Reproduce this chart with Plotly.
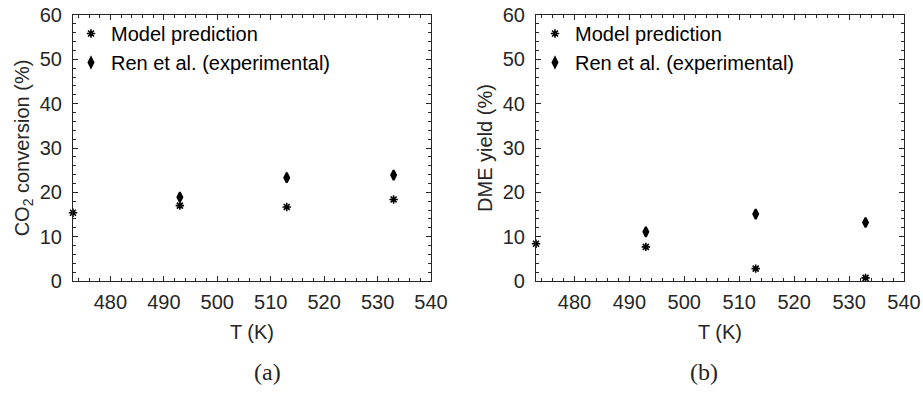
import plotly.graph_objects as go

T_model = [473, 493, 513, 533]
T_exp = [493, 513, 533]
co2_model = [15.4, 17.0, 16.7, 18.4]
co2_exp = [18.9, 23.3, 23.9]
dme_model = [8.4, 7.7, 2.8, 0.7]
dme_exp = [11.1, 15.1, 13.2]

xticks = [480, 490, 500, 510, 520, 530, 540]
yticks = [0, 10, 20, 30, 40, 50, 60]

FONT = "Liberation Sans, Arial, sans-serif"
TXT = "#262626"
fig = go.Figure()

ast = dict(symbol="asterisk-open", size=7, color="black", line=dict(color="black", width=1.6))
dia = dict(symbol="diamond-tall", size=7, color="black", line=dict(color="black", width=2))

fig.add_trace(go.Scatter(x=T_model, y=co2_model, mode="markers", marker=ast,
                         name="Model prediction", xaxis="x", yaxis="y", legend="legend", cliponaxis=False))
fig.add_trace(go.Scatter(x=T_exp, y=co2_exp, mode="markers", marker=dia,
                         name="Ren et al. (experimental)", xaxis="x", yaxis="y", legend="legend", cliponaxis=False))
fig.add_trace(go.Scatter(x=T_model, y=dme_model, mode="markers", marker=ast,
                         name="Model prediction", xaxis="x2", yaxis="y2", legend="legend2", cliponaxis=False))
fig.add_trace(go.Scatter(x=T_exp, y=dme_exp, mode="markers", marker=dia,
                         name="Ren et al. (experimental)", xaxis="x2", yaxis="y2", legend="legend2", cliponaxis=False))

def xax(domain, anchor):
    return dict(domain=domain, anchor=anchor, range=[473, 540], tickvals=xticks,
                automargin=False,
                ticks="inside", ticklen=5, tickwidth=1, tickcolor=TXT,
                minor=dict(dtick=2, ticks="inside", ticklen=3, tickcolor=TXT, showgrid=False),
                showline=True, linecolor=TXT, linewidth=1.2, mirror="allticks",
                showgrid=False, zeroline=False, ticklabelstandoff=3,
                tickfont=dict(family=FONT, size=20, color=TXT),
                title=dict(text="T (K)", font=dict(family=FONT, size=20, color=TXT), standoff=12))

def yax(domain, anchor, title):
    return dict(domain=domain, anchor=anchor, range=[0, 60], tickvals=yticks,
                automargin=False,
                ticks="inside", ticklen=5, tickwidth=1, tickcolor=TXT,
                minor=dict(dtick=2, ticks="inside", ticklen=3, tickcolor=TXT, showgrid=False),
                showline=True, linecolor=TXT, linewidth=1.2, mirror="allticks",
                showgrid=False, zeroline=False, ticklabelstandoff=6,
                tickfont=dict(family=FONT, size=20, color=TXT),
                title=dict(text=title, font=dict(family=FONT, size=20, color=TXT), standoff=4))

yd = [(393 - 281) / 393, (393 - 15) / 393]
fig.update_layout(
    template="none",
    width=923, height=393,
    margin=dict(l=0, r=0, t=0, b=0, autoexpand=False),
    paper_bgcolor="white", plot_bgcolor="white",
    xaxis=xax([73 / 923, 431 / 923], "y"),
    yaxis=yax(yd, "x", "CO<sub>2</sub> conversion (%)"),
    xaxis2=xax([536 / 923, 904 / 923], "y2"),
    yaxis2=yax(yd, "x2", "DME yield (%)"),
    legend=dict(x=71 / 923, y=(393 - 14) / 393, xanchor="left", yanchor="top",
                bgcolor="rgba(0,0,0,0)", font=dict(family=FONT, size=20, color="black"),
                itemwidth=30, tracegroupgap=0),
    legend2=dict(x=535 / 923, y=(393 - 14) / 393, xanchor="left", yanchor="top",
                 bgcolor="rgba(0,0,0,0)", font=dict(family=FONT, size=20, color="black"),
                 itemwidth=30, tracegroupgap=0),
    annotations=[
        dict(text="(a)", x=252 / 923, y=(393 - 372) / 393, xref="paper", yref="paper",
             yanchor="middle", showarrow=False,
             font=dict(family="Liberation Serif, serif", size=24, color=TXT)),
        dict(text="(b)", x=720 / 923, y=(393 - 372) / 393, xref="paper", yref="paper",
             yanchor="middle", showarrow=False,
             font=dict(family="Liberation Serif, serif", size=24, color=TXT)),
    ],
    showlegend=True,
)

fig.write_html("out.html")
